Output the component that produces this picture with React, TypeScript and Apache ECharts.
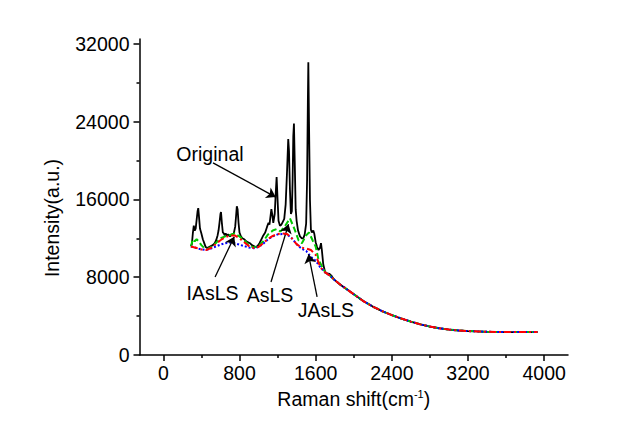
import { useEffect, useRef } from "react";
import * as echarts from "echarts";

const xTickValues = [0, 800, 1600, 2400, 3200, 4000];
const xMinorTicks = [400, 1200, 2000, 2800, 3600];
const yTickValues = [0, 8000, 16000, 24000, 32000];
const yMinorTicks = [4000, 12000, 20000, 28000];

const decayTail: [number, number][] = [
  [1750, 8150], [1800, 7700], [1850, 7300], [1900, 6950], [1950, 6600], [2000, 6250],
  [2100, 5550], [2200, 4980], [2300, 4500], [2400, 4100], [2500, 3750], [2600, 3430],
  [2700, 3150], [2800, 2920], [2900, 2750], [3000, 2620], [3100, 2520], [3200, 2460],
  [3300, 2420], [3400, 2390], [3500, 2370], [3600, 2360], [3800, 2355], [3930, 2355],
];

const originalHead: [number, number][] = [
  [290, 11200], [300, 11400], [310, 12500], [320, 13300], [330, 12800], [340, 13000],
  [350, 13900], [360, 14800], [367, 15100], [375, 14200], [385, 13000], [400, 12500],
  [415, 11900], [430, 11500], [445, 11100], [460, 11000], [480, 11100], [500, 11200],
  [520, 11300], [540, 11500], [555, 11800], [570, 12300], [580, 12800], [590, 13600],
  [600, 14500], [606, 14700], [615, 13600], [625, 12600], [635, 12500], [645, 12300],
  [655, 12500], [665, 12300], [680, 12400], [700, 12200], [720, 12400], [740, 12500],
  [755, 13200], [765, 14400], [772, 15300], [780, 15000], [790, 13600], [800, 12600],
  [815, 12200], [830, 12000], [850, 11900], [870, 11700], [890, 11600], [910, 11500],
  [930, 11300], [950, 11200], [970, 11100], [990, 11200], [1010, 11500], [1030, 11900],
  [1050, 12300], [1070, 12600], [1090, 13200], [1105, 13600], [1115, 13400], [1125, 14200],
  [1135, 15000], [1145, 14400], [1155, 13600], [1170, 14500], [1180, 16500], [1190, 18300],
  [1200, 16000], [1210, 13800], [1225, 13300], [1240, 13400], [1255, 13700], [1270, 14000],
  [1285, 15500], [1300, 19000], [1312, 22200], [1320, 21000], [1330, 17000], [1340, 14500],
  [1350, 14800], [1358, 18000], [1365, 22500], [1372, 23800], [1380, 20000], [1390, 15000],
  [1400, 13800], [1415, 12800], [1435, 12200], [1455, 12000], [1470, 12000], [1485, 12400],
  [1500, 13500], [1510, 18000], [1518, 26000], [1523, 30100], [1530, 24000], [1540, 16000],
  [1550, 12900], [1560, 12600], [1575, 12800], [1585, 12500], [1600, 11600], [1615, 11100],
  [1630, 10800], [1645, 11000], [1656, 11500], [1665, 10800], [1680, 9300], [1700, 8500],
  [1720, 8400], [1745, 8350], [1770, 8100], [1790, 7800],
];

const asLSHead: [number, number][] = [
  [290, 11150], [310, 11900], [330, 11700], [350, 11900], [370, 11700], [400, 11300],
  [430, 11000], [460, 10900], [500, 11100], [550, 11500], [600, 12000], [650, 12200],
  [700, 12350], [750, 12500], [800, 12200], [850, 11800], [900, 11300], [950, 11050],
  [1000, 11200], [1050, 11700], [1100, 12400], [1150, 12800], [1190, 12950], [1230, 12700],
  [1280, 13300], [1330, 14050], [1380, 12900], [1420, 11800], [1455, 11500], [1500, 12300],
  [1530, 12600], [1570, 11750], [1600, 11150], [1630, 9800], [1700, 8500],
];

const iAsLSHead: [number, number][] = [
  [290, 11150], [350, 11000], [400, 10850], [450, 10800], [500, 11000], [550, 11400],
  [600, 11800], [650, 12100], [700, 12300], [750, 12300], [800, 12000], [850, 11600],
  [900, 11200], [950, 11000], [1000, 11100], [1050, 11500], [1100, 11950], [1150, 12250],
  [1200, 12450], [1250, 12500], [1300, 12450], [1350, 12000], [1400, 11400], [1450, 11050],
  [1500, 10950], [1550, 10800], [1600, 10300], [1650, 9000], [1700, 8500],
];

const jAsLSHead: [number, number][] = [
  [290, 11150], [350, 11000], [400, 10850], [450, 10800], [500, 10950], [550, 11150],
  [600, 11350], [650, 11500], [700, 11550], [750, 11500], [800, 11350], [850, 11200],
  [900, 11050], [950, 10980], [1000, 11100], [1050, 11450], [1100, 11900], [1150, 12200],
  [1200, 12400], [1250, 12450], [1300, 12400], [1350, 12000], [1400, 11400], [1450, 10950],
  [1500, 10700], [1550, 10100], [1600, 9700], [1650, 9000], [1700, 8500],
];

const annotationTexts: [number, number, string][] = [
  [490, 20680, "Original"],
  [517, 6330, "IAsLS"],
  [1120, 6120, "AsLS"],
  [1708, 4580, "JAsLS"],
];

const arrowLines: [[number, number], [number, number]][] = [
  [[522, 19760], [1180, 16240]],
  [[544, 8020], [745, 12170]],
  [[1131, 7510], [1315, 13450]],
  [[1615, 5970], [1525, 10350]],
];

const FONT = "'Liberation Sans', Arial, sans-serif";
const FS = 19.5;

export default function App() {
  const ref = useRef<HTMLDivElement>(null);
  useEffect(() => {
    if (!ref.current) return;
    const chart = echarts.init(ref.current, undefined, { renderer: "svg" });
    const original = [...originalHead, ...decayTail.filter((p) => p[0] > 1790)];
    const asls = [...asLSHead, ...decayTail];
    const iasls = [...iAsLSHead, ...decayTail];
    const jasls = [...jAsLSHead, ...decayTail];
    const plain = (v: number) => String(v);

    const axisCommonX = {
      type: "value" as const,
      min: -250,
      max: 4250,
      position: "bottom" as const,
      splitLine: { show: false },
    };
    const axisCommonY = {
      type: "value" as const,
      min: 0,
      max: 32500,
      position: "left" as const,
      splitLine: { show: false },
    };

    const yTitle = {
      type: "text",
      x: 52,
      y: 218,
      rotation: Math.PI / 2,
      silent: true,
      style: {
        text: "Intensity(a.u.)",
        fontSize: FS,
        fontFamily: FONT,
        fill: "#000",
        align: "center",
        verticalAlign: "middle",
      },
    };

    chart.setOption({
      animation: false,
      grid: { left: 139.5, top: 39, width: 428.5, height: 316, containLabel: false, outerBoundsMode: "none" },
      xAxis: [
        {
          ...axisCommonX,
          axisLine: { onZero: false, lineStyle: { color: "#000", width: 1.5 } },
          axisTick: { show: true, customValues: xTickValues, length: 6, lineStyle: { color: "#000", width: 1.5 } },
          axisLabel: { customValues: xTickValues, formatter: plain, color: "#000", fontSize: FS, fontFamily: FONT, margin: 8 },
          name: "Raman shift(cm{sup|-1}{n|)}",
          nameLocation: "middle",
          nameGap: 33,
          nameTextStyle: {
            color: "#000",
            fontSize: FS,
            fontFamily: FONT,
            rich: {
              sup: { fontSize: 11, fontFamily: FONT, color: "#000", verticalAlign: "top", padding: [0, 0, 10, 0] },
              n: { fontSize: FS, fontFamily: FONT, color: "#000" },
            },
          },
        },
        {
          ...axisCommonX,
          axisLine: { show: false, onZero: false },
          axisTick: { show: true, customValues: xMinorTicks, length: 3, lineStyle: { color: "#000", width: 1.5 } },
          axisLabel: { show: false },
        },
      ],
      yAxis: [
        {
          ...axisCommonY,
          axisLine: { show: true, onZero: false, lineStyle: { color: "#000", width: 1.5 } },
          axisTick: { show: true, customValues: yTickValues, length: 6, lineStyle: { color: "#000", width: 1.5 } },
          axisLabel: { customValues: yTickValues, formatter: plain, color: "#000", fontSize: FS, fontFamily: FONT, margin: 10 },
        },
        {
          ...axisCommonY,
          axisLine: { show: false, onZero: false },
          axisTick: { show: true, customValues: yMinorTicks, length: 3, lineStyle: { color: "#000", width: 1.5 } },
          axisLabel: { show: false },
        },
      ],
      graphic: [yTitle],
      series: [
        {
          name: "Original",
          type: "line",
          data: original,
          showSymbol: false,
          silent: true,
          lineStyle: { color: "#000", width: 1.8 },
          z: 2,
          markLine: {
            silent: true,
            symbol: ["none", "arrow"],
            symbolSize: 9,
            label: { show: false },
            lineStyle: { color: "#000", width: 1.3, type: "solid" },
            data: arrowLines.map(([a, b]) => [{ coord: a }, { coord: b }]),
          },
        },
        {
          name: "AsLS",
          type: "line",
          data: asls,
          showSymbol: false,
          silent: true,
          lineStyle: { color: "#00c800", width: 2, type: [6, 3] },
          z: 3,
        },
        {
          name: "JAsLS",
          type: "line",
          data: jasls,
          showSymbol: false,
          silent: true,
          lineStyle: { color: "#0000ff", width: 2, type: [2, 2] },
          z: 4,
        },
        {
          name: "IAsLS",
          type: "line",
          data: iasls,
          showSymbol: false,
          silent: true,
          lineStyle: { color: "#ff0000", width: 2, type: [7, 3, 2, 3] },
          z: 5,
        },
      ],
    });

    const labelGraphics = annotationTexts.map((t) => {
      const p = chart.convertToPixel({ gridIndex: 0 }, [t[0], t[1]]) as number[];
      return {
        type: "text",
        x: p[0],
        y: p[1],
        silent: true,
        z: 10,
        style: {
          text: t[2],
          fontSize: FS,
          fontFamily: FONT,
          fill: "#000",
          align: "center",
          verticalAlign: "middle",
        },
      };
    });
    chart.setOption({ graphic: [yTitle, ...labelGraphics] });

    return () => chart.dispose();
  }, []);
  return (
    <div
      ref={ref}
      style={{ position: "absolute", left: 0, top: 0, width: 636, height: 428, background: "#fff" }}
    />
  );
}
